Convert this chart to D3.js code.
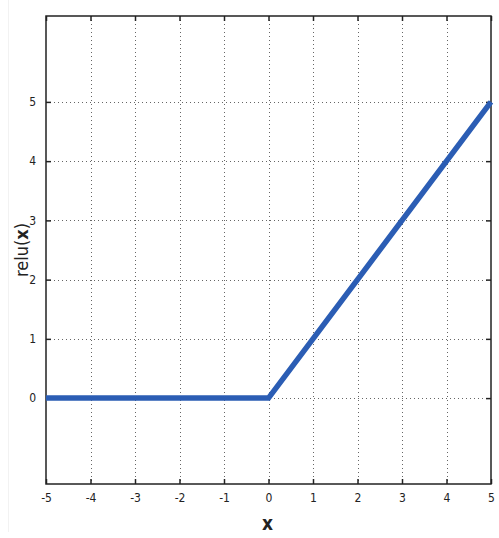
<!DOCTYPE html>
<html>
<head>
<meta charset="utf-8">
<script src="https://cdn.jsdelivr.net/npm/d3@7"></script>
<style>
  body { margin: 0; background: #fff; }
  .tick text { font-family: "DejaVu Sans Condensed", "Liberation Sans Narrow", sans-serif; font-size: 12px; fill: #222; }
</style>
</head>
<body>
<svg id="chart"></svg>
<script>
// relu curve points
const xValues = [-5, 0, 5];
const yValues = [0, 0, 5];
const xTicks = [-5, -4, -3, -2, -1, 0, 1, 2, 3, 4, 5];
const yTicks = [0, 1, 2, 3, 4, 5];

const W = 499, H = 538;
const margin = {top: 16, right: 8, bottom: 54, left: 46};
const width = W - margin.left - margin.right;
const height = H - margin.top - margin.bottom;

const svg = d3.select('#chart').attr('width', W).attr('height', H);

// faint photo edge
svg.append('line')
  .attr('x1', 8.5).attr('x2', 8.5).attr('y1', 0).attr('y2', 532)
  .attr('stroke', '#f2f2f2');

const chart = svg.append('g')
  .attr('transform', `translate(${margin.left},${margin.top})`);

const x = d3.scaleLinear([-5, 5], [0, width]);
const y = d3.scaleLinear([-1.45, 6.45], [height, 0]);

// dotted grid
chart.append('g').selectAll('line')
  .data(xTicks.slice(1, -1))
  .join('line')
    .attr('x1', d => Math.round(x(d)) + 0.5).attr('x2', d => Math.round(x(d)) + 0.5)
    .attr('y1', 0).attr('y2', height)
    .attr('stroke', '#666').attr('stroke-width', 1).attr('stroke-dasharray', '1,3');

chart.append('g').selectAll('line')
  .data(yTicks)
  .join('line')
    .attr('y1', d => Math.round(y(d)) + 0.5).attr('y2', d => Math.round(y(d)) + 0.5)
    .attr('x1', 0).attr('x2', width)
    .attr('stroke', '#666').attr('stroke-width', 1).attr('stroke-dasharray', '1,3');

// axes with inward ticks, plain hyphen minus like the original
const fmt = d => String(d);
const xAxisB = d3.axisBottom(x).tickValues(xTicks).tickSize(-5).tickPadding(9).tickFormat(fmt);
const xAxisT = d3.axisTop(x).tickValues(xTicks).tickSize(-5).tickFormat('');
const yAxisL = d3.axisLeft(y).tickValues(yTicks).tickSize(-5).tickPadding(10).tickFormat(fmt);
const yAxisR = d3.axisRight(y).tickValues(yTicks).tickSize(-5).tickFormat('');

function style(g) {
  g.select('.domain').remove();
  g.selectAll('.tick line').attr('stroke', '#222').attr('stroke-width', 1.5);
}

chart.append('g').attr('transform', `translate(0,${height})`).call(xAxisB).call(style);
chart.append('g').call(xAxisT).call(style);
chart.append('g').call(yAxisL).call(style);
chart.append('g').attr('transform', `translate(${width},0)`).call(yAxisR).call(style);

// frame
chart.append('rect')
  .attr('x', 0).attr('y', 0).attr('width', width).attr('height', height)
  .attr('fill', 'none').attr('stroke', '#222').attr('stroke-width', 1.5);

// relu line
const pts = xValues.map((v, i) => [v, yValues[i]]);
chart.append('path')
  .datum(pts)
  .attr('fill', 'none')
  .attr('stroke', '#2b5db4')
  .attr('stroke-width', 5.5)
  .attr('d', d3.line().x(d => x(d[0])).y(d => y(d[1])));

// axis titles
svg.append('text')
  .attr('x', margin.left + width / 2 - 1)
  .attr('y', 530)
  .attr('text-anchor', 'middle')
  .style('font-family', '"DejaVu Sans Condensed", sans-serif')
  .style('font-size', '19px')
  .style('font-weight', 'bold')
  .attr('fill', '#222')
  .text('x');

const yl = svg.append('text')
  .attr('transform', `translate(28,250) rotate(-90)`)
  .attr('text-anchor', 'middle')
  .style('font-family', '"DejaVu Sans Condensed", sans-serif')
  .style('font-size', '18px')
  .attr('fill', '#222');
yl.append('tspan').text('relu(');
yl.append('tspan').style('font-weight', 'bold').text('x');
yl.append('tspan').text(')');
</script>
</body>
</html>
